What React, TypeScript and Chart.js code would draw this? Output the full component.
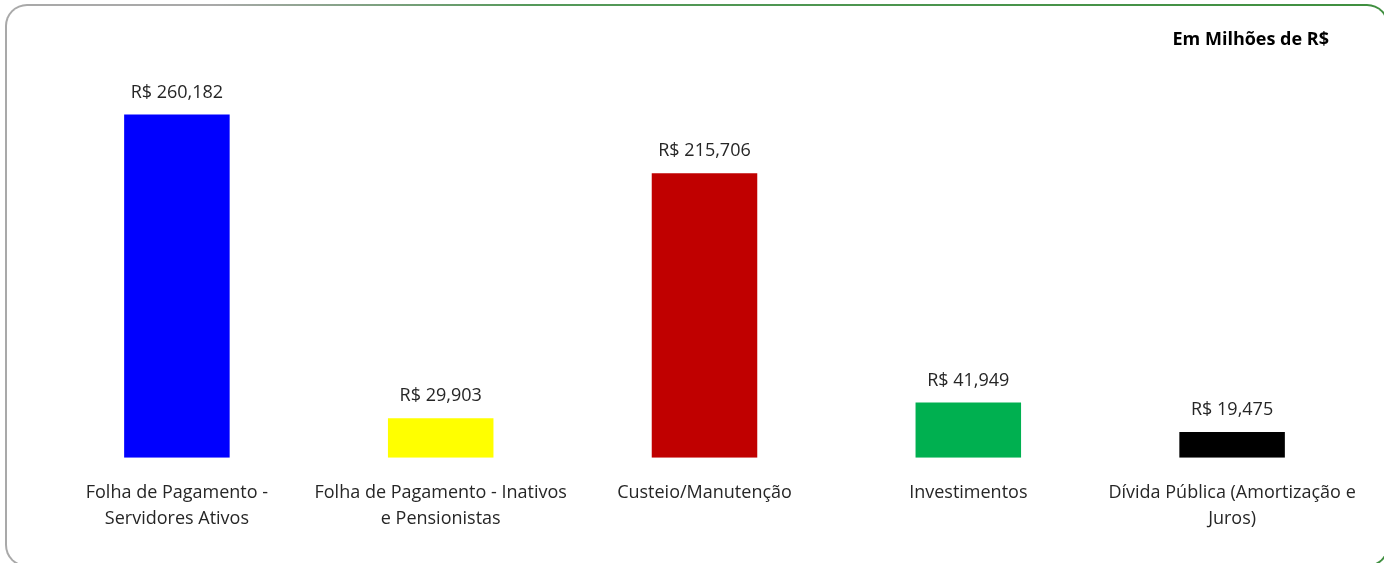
import React, { useEffect, useRef } from "react";
import { Chart, registerables } from "chart.js";

Chart.register(...registerables);

const categories: string[][] = [
  ["Folha de Pagamento -", "Servidores Ativos"],
  ["Folha de Pagamento - Inativos", "e Pensionistas"],
  ["Custeio/Manutenção"],
  ["Investimentos"],
  ["Dívida Pública (Amortização e", "Juros)"],
];
const values: number[] = [260.182, 29.903, 215.706, 41.949, 19.475];
const barColors: string[] = ["#0000ff", "#ffff00", "#c00000", "#00b050", "#000000"];
const unitLabel = "Em Milhões de R$";

const FONT = "'Open Sans', 'Noto Sans', sans-serif";
const TEXT = "#262626";

const fmt = (v: number) => "R$ " + v.toFixed(3).replace(".", ",");

const valueLabels = {
  id: "valueLabels",
  afterDatasetsDraw(chart: any) {
    const ctx = chart.ctx;
    const meta = chart.getDatasetMeta(0);
    ctx.save();
    ctx.font = `18px ${FONT}`;
    ctx.fillStyle = TEXT;
    ctx.textAlign = "center";
    ctx.textBaseline = "middle";
    meta.data.forEach((el: any, i: number) => {
      ctx.fillText(fmt(values[i]), el.x, el.y - 22);
    });
    ctx.restore();
  },
};

export default function App() {
  const ref = useRef<HTMLCanvasElement>(null);
  useEffect(() => {
    if (!ref.current) return;
    const chart = new Chart(ref.current, {
      type: "bar",
      data: {
        labels: categories,
        datasets: [
          {
            data: values,
            backgroundColor: barColors,
            borderWidth: 0,
            barPercentage: 0.4,
            categoryPercentage: 1,
          },
        ],
      },
      options: {
        animation: false,
        responsive: false,
        maintainAspectRatio: false,
        layout: { padding: { left: 45, right: 20, top: 62, bottom: 9 } },
        plugins: {
          legend: { display: false },
          tooltip: { enabled: false },
          title: { display: false },
        },
        scales: {
          x: {
            grid: { display: false, drawTicks: false },
            border: { display: false },
            ticks: {
              color: TEXT,
              font: { family: FONT, size: 18, lineHeight: 1.45 },
              padding: 22,
              maxRotation: 0,
              autoSkip: false,
            },
          },
          y: {
            display: false,
            min: 0,
            max: 300,
          },
        },
      },
      plugins: [valueLabels],
    });
    return () => chart.destroy();
  }, []);

  return (
    <div style={{ position: "absolute", left: 0, top: 0, width: 1384, height: 563, overflow: "hidden", background: "#fff" }}>
      <div
        style={{
          position: "absolute",
          left: 5,
          top: 4,
          width: 1384,
          height: 563,
          borderRadius: 22,
          padding: 2,
          boxSizing: "border-box",
          background: "linear-gradient(to right, #a9a9a9 0%, #a9a9a9 15%, #55995a 38%, #3f8f3f 100%)",
        }}
      >
        <div style={{ width: "100%", height: "100%", borderRadius: 20, background: "#fff" }} />
      </div>
      <canvas ref={ref} width={1384} height={563} style={{ position: "absolute", left: 0, top: 0 }} />
      <div
        style={{
          position: "absolute",
          right: 1384 - 1329,
          top: 26,
          fontFamily: "'Open Sans', sans-serif",
          fontWeight: "bold",
          fontSize: 18,
          color: "#000",
          whiteSpace: "nowrap",
          lineHeight: "24px",
        }}
      >
        {unitLabel}
      </div>
    </div>
  );
}
